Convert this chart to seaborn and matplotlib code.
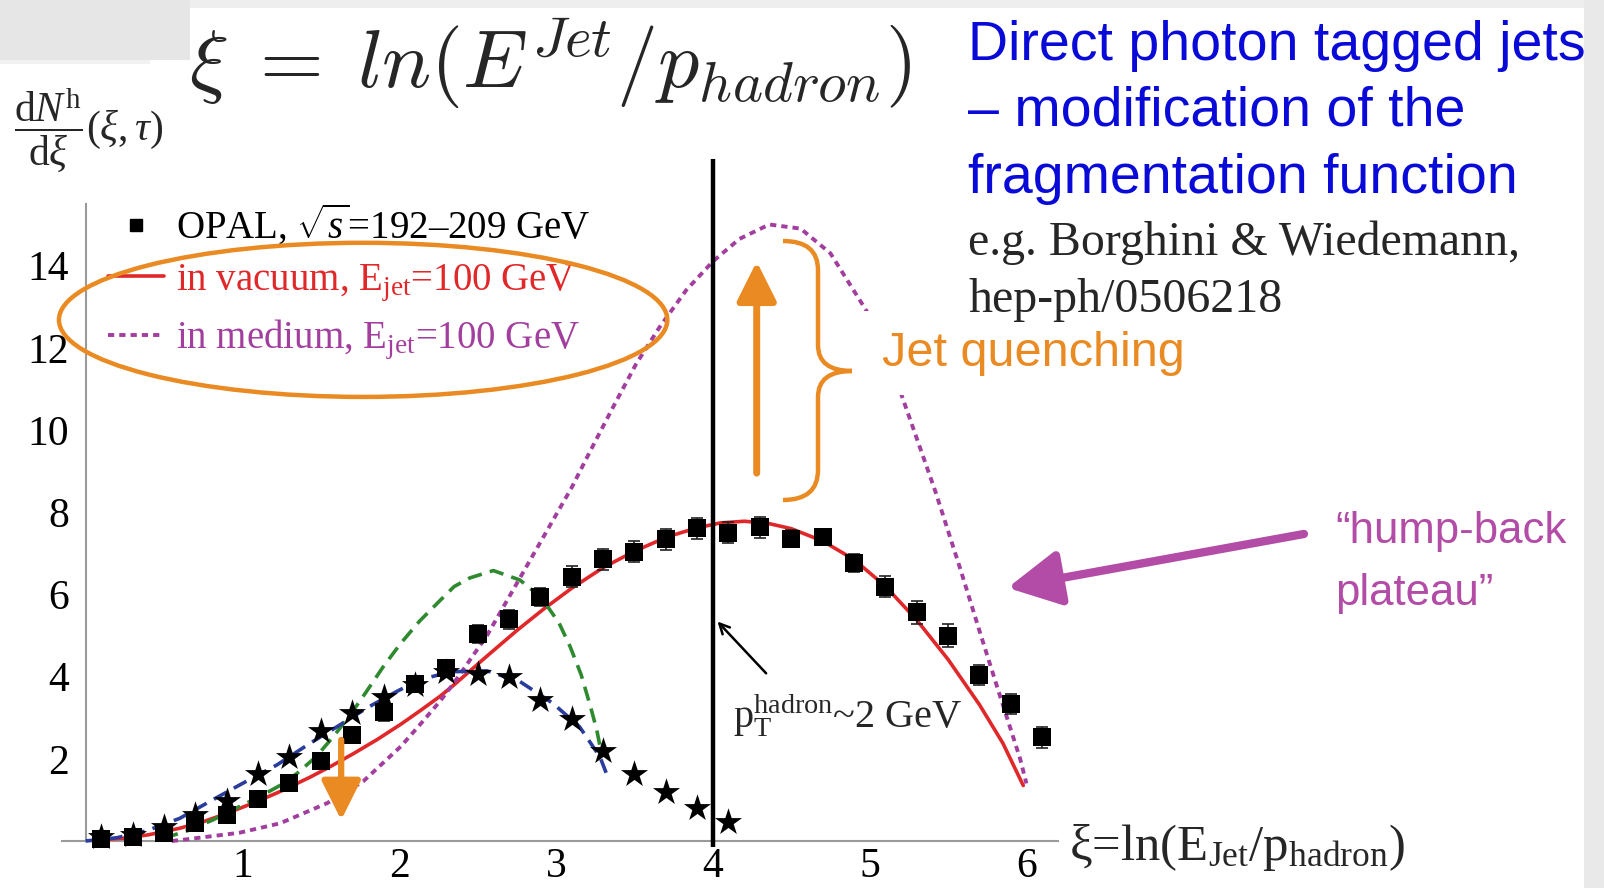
import numpy as np
import matplotlib
matplotlib.use('Agg')
import matplotlib.pyplot as plt
import seaborn as sns
from matplotlib.lines import Line2D
from matplotlib.patches import Ellipse, Rectangle, PathPatch
from matplotlib.path import Path

# OPAL data (squares) and the second, lower data set (stars)
opal_x = [0.1, 0.3, 0.5, 0.7, 0.9, 1.1, 1.3, 1.5, 1.7, 1.9, 2.1, 2.3, 2.5, 2.7, 2.9, 3.1,
          3.3, 3.5, 3.7, 3.9, 4.1, 4.3, 4.5, 4.7, 4.9, 5.1, 5.3, 5.5, 5.7, 5.9, 6.1]
opal_y = [0.05, 0.1, 0.19, 0.43, 0.63, 1.01, 1.40, 1.95, 2.58, 3.13, 3.82, 4.20, 5.04, 5.39,
          5.93, 6.43, 6.85, 7.04, 7.34, 7.61, 7.50, 7.63, 7.36, 7.39, 6.76, 6.19, 5.56, 4.99,
          4.04, 3.33, 2.52]
opal_err = [0.05, 0.05, 0.08, 0.1, 0.12, 0.12, 0.15, 0.15, 0.15, 0.2, 0.2, 0.2, 0.22, 0.22,
            0.22, 0.25, 0.25, 0.25, 0.25, 0.25, 0.25, 0.25, 0.2, 0.2, 0.22, 0.25, 0.28, 0.28,
            0.25, 0.25, 0.25]
star_x = [0.1, 0.3, 0.5, 0.7, 0.9, 1.1, 1.3, 1.5, 1.7, 1.9, 2.1, 2.3, 2.5, 2.7, 2.9, 3.1,
          3.3, 3.5, 3.7, 3.9, 4.1]
star_y = [0.10, 0.15, 0.35, 0.63, 0.98, 1.62, 2.05, 2.68, 3.12, 3.51, 3.80, 4.12, 4.06, 3.98,
          3.43, 2.96, 2.20, 1.63, 1.20, 0.80, 0.47]

# in vacuum, E_jet = 100 GeV (red solid)
vac_x = [0.1, 0.25, 0.4, 0.6, 0.75, 0.9, 1.1, 1.25, 1.43, 1.57, 1.71, 1.86, 2.01, 2.13, 2.26,
         2.35, 2.56, 2.75, 2.92, 3.1, 3.3, 3.5, 3.71, 3.9, 4.05, 4.2, 4.35, 4.5, 4.7, 4.9, 5.1,
         5.3, 5.5, 5.7, 5.85, 5.98]
vac_y = [0.03, 0.07, 0.15, 0.31, 0.47, 0.67, 0.97, 1.22, 1.55, 1.83, 2.13, 2.47, 2.84, 3.16, 3.52,
         3.8, 4.5, 5.12, 5.64, 6.15, 6.65, 7.05, 7.40, 7.62, 7.74, 7.78, 7.73, 7.6, 7.3, 6.85,
         6.2, 5.38, 4.42, 3.32, 2.38, 1.35]

# in medium, E_jet = 100 GeV (magenta dotted)
med_x = [0.55, 0.6, 0.98, 1.24, 1.54, 1.77, 2.01, 2.13, 2.26, 2.35, 2.56, 2.71, 2.77, 2.98, 3.1,
         3.22, 3.37, 3.51, 3.66, 3.83, 4.0, 4.17, 4.36, 4.56, 4.75, 4.98, 5.19, 5.42, 5.58, 5.71,
         5.83, 5.96, 6.0]
med_y = [0.0, 0.02, 0.2, 0.43, 0.92, 1.45, 2.3, 2.82, 3.4, 3.85, 5.0, 6.0, 6.4, 7.8, 8.6, 9.5,
         10.6, 11.6, 12.5, 13.4, 14.1, 14.65, 15.0, 14.9, 14.3, 12.9, 11.0, 8.5, 6.6,
         5.0, 3.55, 2.0, 1.4]

# green dashed
grn_x = [0.5, 0.65, 0.81, 0.95, 1.11, 1.23, 1.35, 1.47, 1.58, 1.69, 1.79, 1.9, 2.01, 2.13, 2.26,
         2.35, 2.45, 2.6, 2.77, 2.85, 2.94, 3.02, 3.09, 3.16, 3.22, 3.26, 3.29]
grn_y = [0.07, 0.25, 0.51, 0.78, 1.08, 1.33, 1.65, 2.05, 2.54, 3.08, 3.63, 4.25, 4.81, 5.35, 5.85,
         6.19, 6.4, 6.58, 6.35, 6.1, 5.74, 5.3, 4.73, 4.05, 3.27, 2.7, 2.13]

# blue dashed
blu_x = [0.0, 0.2, 0.39, 0.6, 0.81, 1.0, 1.22, 1.42, 1.62, 1.8, 1.98, 2.13, 2.26, 2.35, 2.56,
         2.77, 2.98, 3.15, 3.28, 3.33]
blu_y = [0.0, 0.08, 0.25, 0.55, 1.0, 1.4, 1.85, 2.35, 2.82, 3.25, 3.63, 3.92, 4.05, 4.12, 4.14,
         3.88, 3.35, 2.78, 2.05, 1.56]

xi_cut = 4.0
x_ticks = [1, 2, 3, 4, 5, 6]
y_ticks = [2, 4, 6, 8, 10, 12, 14]

legend_labels = [r'OPAL, $\sqrt{s}$=192–209 GeV',
                 r'in vacuum, E$_{\mathregular{jet}}$=100 GeV',
                 r'in medium, E$_{\mathregular{jet}}$=100 GeV']

RED = '#e0282a'
MAG = '#a23f9e'
GRN = '#2f8a2f'
BLU = '#2a3c9c'
ORG = '#ea8a22'
PUR = '#b24ca6'
BLUE_TXT = '#0a0ad8'

sns.set_style('white')
plt.rcParams['font.family'] = ['Liberation Serif', 'DejaVu Serif']
plt.rcParams['mathtext.fontset'] = 'custom'
plt.rcParams['mathtext.rm'] = 'Liberation Serif'
plt.rcParams['mathtext.it'] = 'Liberation Serif:italic'
plt.rcParams['mathtext.bf'] = 'Liberation Serif:bold'

W, H = 1604, 888
fig = plt.figure(figsize=(W / 100, H / 100), dpi=100)
fig.patch.set_facecolor('white')

# pixel -> axis data conversion for the full-figure axes
X0_PX, XU, Y0_PX, YU = 85.6, 156.8, 841.0, 41.1
def fx(p):
    return p / W
def fy(p):
    return 1 - p / H

ax = fig.add_axes([0, 0, 1, 1])
ax.set_facecolor('none')
ax.set_xlim(-X0_PX / XU, (W - X0_PX) / XU)
ax.set_ylim((Y0_PX - H) / YU, Y0_PX / YU)

# faded slide background
for (x, y, w, h, c) in [(0, 0, 190, 60, '#e6e6e6'), (190, 0, 1394, 8, '#eeeeee'),
                        (1584, 0, 20, 888, '#e9e9e9'), (0, 60, 150, 4, '#f2f2f2')]:
    fig.add_artist(Rectangle((fx(x), fy(y + h)), w / W, h / H, transform=fig.transFigure,
                             facecolor=c, edgecolor='none', zorder=-5))

# curves
sns.lineplot(x=vac_x, y=vac_y, ax=ax, color=RED, lw=2.6, zorder=3)
sns.lineplot(x=med_x, y=med_y, ax=ax, color=MAG, lw=2.8, linestyle=(0, (1.6, 1.3)), zorder=3)
sns.lineplot(x=grn_x, y=grn_y, ax=ax, color=GRN, lw=2.6, linestyle=(0, (4, 2.3)), zorder=3)
sns.lineplot(x=blu_x, y=blu_y, ax=ax, color=BLU, lw=2.6, linestyle=(0, (4, 2.3)), zorder=3)

# data points
ax.errorbar(opal_x, opal_y, yerr=opal_err, fmt='none', ecolor='#222222', elinewidth=1.2,
            capsize=4, capthick=1.2, zorder=4)
sns.scatterplot(x=opal_x, y=opal_y, ax=ax, marker='s', s=150, color='black', linewidth=0,
                zorder=5)
sns.scatterplot(x=star_x, y=star_y, ax=ax, marker='*', s=420, color='black', linewidth=0,
                zorder=5)

# p_T ~ 2 GeV cut
ax.vlines(xi_cut, -0.15, 16.6, color='black', lw=3.2, zorder=6)
ax.annotate('', xy=(4.03, 5.34), xytext=(4.34, 4.08),
            arrowprops=dict(arrowstyle='->', lw=1.8, color='black', mutation_scale=18,
                            shrinkA=0, shrinkB=0))
ax.text(4.13, 3.05, r'p$_{\mathregular{T}}^{\mathregular{hadron}}$~2 GeV', fontsize=29,
        va='center', ha='left', zorder=7)

# axes styling
ax.spines['top'].set_visible(False)
ax.spines['right'].set_visible(False)
ax.spines['bottom'].set_position(('data', 0))
ax.spines['left'].set_position(('data', 0))
ax.spines['bottom'].set_bounds(-0.15, 6.2)
ax.spines['left'].set_bounds(0, 15.5)
for s in ['bottom', 'left']:
    ax.spines[s].set_color('#9a9a9a')
    ax.spines[s].set_linewidth(1.5)
ax.set_xticks(x_ticks)
ax.set_xticklabels([str(t) for t in x_ticks])
ax.set_yticks(y_ticks)
ax.set_yticklabels([str(t) for t in y_ticks])
ax.set_xticks([m for m in np.arange(0.2, 6.21, 0.2) if abs(m - round(m)) > 0.05], minor=True)
ax.set_yticks([m for m in np.arange(0.5, 15.51, 0.5) if abs(m / 2 - round(m / 2)) > 0.05],
              minor=True)
ax.tick_params(which='major', direction='in', length=9, width=1.3, color='#9a9a9a',
               labelsize=30, labelcolor='black')
ax.tick_params(which='minor', direction='in', length=5, width=1.0, color='#9a9a9a')
ax.tick_params(axis='x', which='major', pad=5)
ax.tick_params(axis='y', which='major', pad=12)
ax.set_xlabel('')
ax.set_ylabel('')

# legend
handles = [Line2D([], [], marker='s', color='black', linestyle='none', markersize=9),
           Line2D([], [], color=RED, lw=2.6),
           Line2D([], [], color=MAG, lw=2.8, linestyle=(0, (1.6, 1.3)))]
leg = ax.legend(handles, legend_labels, loc='upper left', bbox_to_anchor=(fx(108), fy(203)),
                bbox_transform=fig.transFigure, frameon=False, fontsize=28, handlelength=1.45,
                handletextpad=0.3, labelspacing=0.36, borderaxespad=0, borderpad=0)
for t, c in zip(leg.get_texts(), ['black', RED, MAG]):
    t.set_color(c)

# orange annotations
ax.add_patch(Ellipse((1.77, 12.68), width=3.88, height=3.75, fill=False, edgecolor=ORG,
                     lw=3.2, zorder=6))
ax.annotate('', xy=(1.63, 0.51), xytext=(1.63, 2.46),
            arrowprops=dict(arrowstyle='-|>,head_length=0.6,head_width=0.3', lw=4.5, color=ORG,
                            mutation_scale=40, shrinkA=0, shrinkB=0), zorder=7)
ax.annotate('', xy=(4.28, 14.1), xytext=(4.28, 8.95),
            arrowprops=dict(arrowstyle='-|>,head_length=0.6,head_width=0.3', lw=5, color=ORG,
                            mutation_scale=40, shrinkA=0, shrinkB=0), zorder=7)
brace_px = [(783, 241), (818, 241), (818, 270), (818, 345), (818, 371), (852, 371),
            (818, 371), (818, 397), (818, 470), (818, 500), (783, 500)]
codes = [Path.MOVETO, Path.CURVE3, Path.CURVE3, Path.LINETO, Path.CURVE3, Path.CURVE3,
         Path.CURVE3, Path.CURVE3, Path.LINETO, Path.CURVE3, Path.CURVE3]
brace = Path([(fx(x), fy(y)) for x, y in brace_px], codes)
fig.add_artist(PathPatch(brace, transform=fig.transFigure, fill=False, edgecolor=ORG, lw=3.2))
fig.text(fx(882), fy(353), 'Jet quenching', fontsize=35, family='Liberation Sans', color=ORG,
         va='center', ha='left',
         bbox=dict(facecolor='white', edgecolor='none', pad=14))

# hump-back plateau arrow and label
ax.annotate('', xy=(5.88, 6.16), xytext=(7.77, 7.47),
            arrowprops=dict(arrowstyle='-|>,head_length=0.8,head_width=0.42', lw=6, color=PUR,
                            mutation_scale=40, shrinkA=0, shrinkB=0), zorder=7)
fig.text(fx(1335), fy(532), '\u201chump-back', fontsize=31.5, family='Liberation Sans',
         color=PUR, va='center', ha='left')
fig.text(fx(1335), fy(593), 'plateau\u201d', fontsize=31.5, family='Liberation Sans',
         color=PUR, va='center', ha='left')

# titles and labels
fig.text(fx(189), fy(63), r'$\xi\;=\;ln(E^{Jet}/p_{hadron})$', fontsize=59,
         math_fontfamily='cm', va='center', ha='left')
fig.text(fx(14), fy(130), r'$\dfrac{\mathrm{d}N^{\mathrm{h}}}{\mathrm{d}\xi}(\xi,\tau)$',
         fontsize=30, va='center', ha='left')
fig.text(fx(1069), fy(847), r'ξ=ln(E$_{\mathregular{Jet}}$/p$_{\mathregular{hadron}}$)',
         fontsize=36.5, va='center', ha='left')
for txt, ypx in [('Direct photon tagged jets', 46), ('\u2013 modification of the', 112),
                 ('fragmentation function', 179)]:
    fig.text(fx(968), fy(ypx), txt, fontsize=40, family='Liberation Sans', color=BLUE_TXT,
             va='center', ha='left')
fig.text(fx(968), fy(243), 'e.g. Borghini & Wiedemann,', fontsize=34.5, va='center', ha='left')
fig.text(fx(968), fy(300), 'hep-ph/0506218', fontsize=34.5, va='center', ha='left')

fig.savefig('out.png', dpi=100)
